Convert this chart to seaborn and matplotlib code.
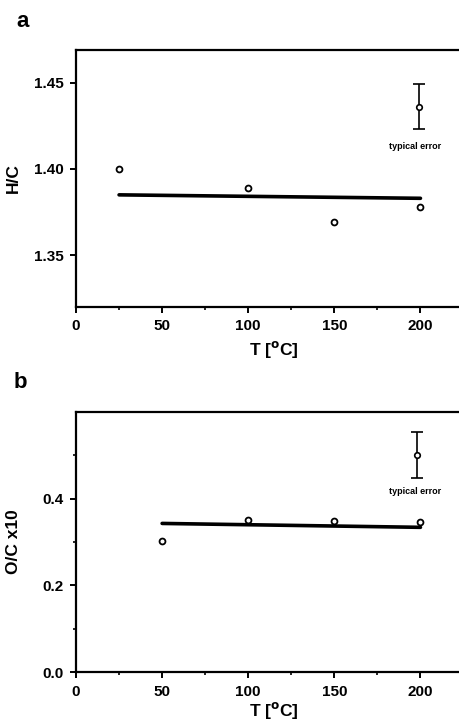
import numpy as np
import pandas as pd
import matplotlib
matplotlib.use("Agg")
import matplotlib.pyplot as plt
import seaborn as sns
from matplotlib.ticker import MultipleLocator, FixedLocator, FormatStrFormatter

# data
t_hc = [25, 100, 150, 200]
hc = [1.400, 1.389, 1.369, 1.378]
fit_hc_t = [25, 200]
fit_hc = [1.385, 1.383]
err_hc_t = 199
err_hc = 1.436
err_hc_size = 0.013

t_oc = [50, 100, 150, 200]
oc = [0.303, 0.352, 0.349, 0.347]
fit_oc_t = [50, 200]
fit_oc = [0.343, 0.334]
err_oc_t = 198
err_oc = 0.502
err_oc_size = 0.053

sns.set_style("ticks")
plt.rcParams["font.family"] = ["Liberation Sans", "DejaVu Sans"]
plt.rcParams["font.weight"] = "bold"
for k in ["text.color", "axes.edgecolor", "axes.labelcolor", "xtick.color", "ytick.color"]:
    plt.rcParams[k] = "black"

fig = plt.figure(figsize=(4.59, 7.24), dpi=100)
ax1 = fig.add_axes([0.1656, 0.576, 0.863, 0.355])
ax2 = fig.add_axes([0.1656, 0.0718, 0.863, 0.359])


def panel(ax, t, y, ft, fy, et, ey, es, ylab, xpad):
    sns.lineplot(x=ft, y=fy, ax=ax, color="black", lw=2.6)
    sns.scatterplot(x=t, y=y, ax=ax, marker="o", s=18, facecolor="white",
                    edgecolor="black", linewidth=1.3, zorder=5)
    ax.errorbar([et], [ey], yerr=[es], fmt="o", ms=4, mfc="white", mec="black",
                mew=1.2, ecolor="black", elinewidth=1.2, capsize=4, capthick=1.2)
    ax.set_xlim(0, 230)
    ax.xaxis.set_major_locator(MultipleLocator(50))
    ax.xaxis.set_minor_locator(MultipleLocator(25))
    for s in ax.spines.values():
        s.set_linewidth(1.6)
    ax.tick_params(axis="both", which="major", direction="out", length=4,
                   width=1.4, labelsize=11, pad=5)
    ax.tick_params(axis="both", which="minor", direction="out", length=2.5,
                   width=1.2)
    for lab in ax.get_xticklabels() + ax.get_yticklabels():
        lab.set_fontweight("bold")
    ax.set_xlabel("T [$^{\\mathbf{o}}$C]", fontsize=12.5, fontweight="bold", labelpad=xpad)
    ax.set_ylabel(ylab, fontsize=12.5, fontweight="bold")
    ax.yaxis.set_label_coords(-0.14, 0.5)


panel(ax1, t_hc, hc, fit_hc_t, fit_hc, err_hc_t, err_hc, err_hc_size, "H/C", 4)
ax1.set_ylim(1.320, 1.469)
ax1.yaxis.set_major_locator(MultipleLocator(0.05))
ax1.yaxis.set_major_formatter(FormatStrFormatter("%.2f"))
ax1.text(197, 1.413, "typical error", fontsize=6.5, fontweight="bold",
         ha="center", va="center")

panel(ax2, t_oc, oc, fit_oc_t, fit_oc, err_oc_t, err_oc, err_oc_size, "O/C x10", 1)
ax2.set_ylim(0, 0.6)
ax2.yaxis.set_major_locator(FixedLocator([0.0, 0.2, 0.4]))
ax2.yaxis.set_minor_locator(FixedLocator([0.1, 0.3, 0.5]))
ax2.yaxis.set_major_formatter(FormatStrFormatter("%.1f"))
ax2.text(197, 0.416, "typical error", fontsize=6.5, fontweight="bold",
         ha="center", va="center")

fig.text(0.035, 0.97, "a", fontsize=16, fontweight="bold", ha="left", va="center")
fig.text(0.03, 0.471, "b", fontsize=16, fontweight="bold", ha="left", va="center")

fig.savefig("out.png", dpi=100)
